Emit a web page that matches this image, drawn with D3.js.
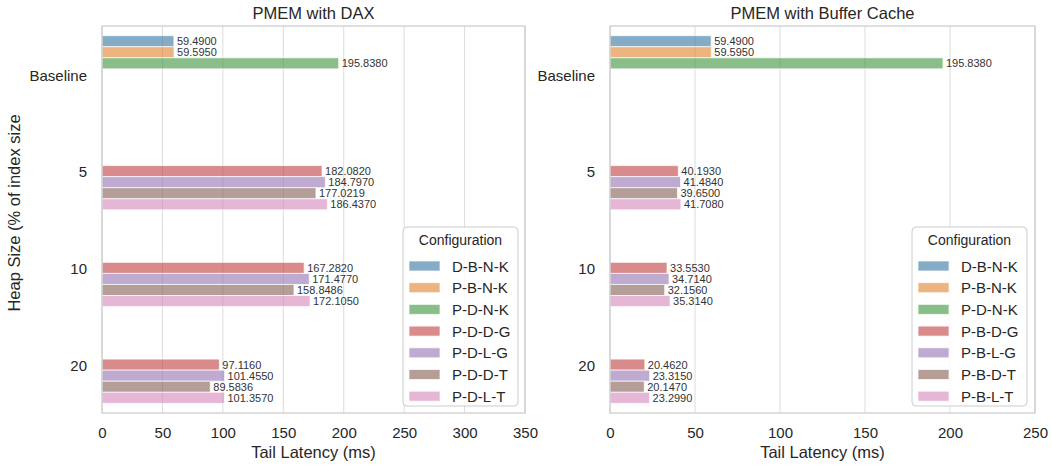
<!DOCTYPE html>
<html>
<head>
<meta charset="utf-8">
<script src="https://cdn.jsdelivr.net/npm/d3@7"></script>
<style>
  html, body { margin: 0; padding: 0; background: #fff; }
  svg { display: block; font-family: "Liberation Sans", Arial, sans-serif; }
</style>
</head>
<body>
<svg id="chart" width="1052" height="465"></svg>
<script>
// Heap-size categories on the y axis
const categories = ["Baseline", "5", "10", "20"];

// Hue order (seven configurations) for each panel
const daxConfigs = ["D-B-N-K", "P-B-N-K", "P-D-N-K", "P-D-D-G", "P-D-L-G", "P-D-D-T", "P-D-L-T"];
const cacheConfigs = ["D-B-N-K", "P-B-N-K", "P-D-N-K", "P-B-D-G", "P-B-L-G", "P-B-D-T", "P-B-L-T"];

// Tail latency (ms) per category, listed in hue order; null = not measured
const daxBaseline = [59.49, 59.595, 195.838, null, null, null, null];
const dax5 = [null, null, null, 182.082, 184.797, 177.0219, 186.437];
const dax10 = [null, null, null, 167.282, 171.477, 158.8486, 172.105];
const dax20 = [null, null, null, 97.116, 101.455, 89.5836, 101.357];

const cacheBaseline = [59.49, 59.595, 195.838, null, null, null, null];
const cache5 = [null, null, null, 40.193, 41.484, 39.65, 41.708];
const cache10 = [null, null, null, 33.553, 34.714, 32.156, 35.314];
const cache20 = [null, null, null, 20.462, 23.315, 20.147, 23.299];

// X tick values per panel
const daxTicks = [0, 50, 100, 150, 200, 250, 300, 350];
const cacheTicks = [0, 50, 100, 150, 200, 250];

// tab10 base colours, desaturated to 75% as the bar style does
const baseColors = ["#1f77b4", "#ff7f0e", "#2ca02c", "#d62728", "#9467bd", "#8c564b", "#e377c2"];
const palette = baseColors.map(c => {
  const h = d3.hsl(c);
  h.s *= 0.75;
  return h.formatHex();
});
const barAlpha = 0.6;
const textColor = "#262626";

const svg = d3.select("#chart");

function drawPanel(opts) {
  const { left, right, top, bottom, title, configs, rows, ticks, legendX } = opts;
  const g = svg.append("g");

  const x = d3.scaleLinear().domain([ticks[0], ticks[ticks.length - 1]]).range([left, right]);
  const y = d3.scaleBand().domain(categories).range([top, bottom]).padding(0);
  const hue = d3.scaleBand().domain(configs)
    .range([y.bandwidth() * 0.1, y.bandwidth() * 0.9]).padding(0);

  // vertical grid
  g.append("g").selectAll("line").data(ticks).join("line")
    .attr("x1", d => x(d)).attr("x2", d => x(d))
    .attr("y1", top).attr("y2", bottom)
    .attr("stroke", "#dcdcdc").attr("stroke-width", 1);

  // bars
  const records = [];
  categories.forEach((c, ci) => {
    rows[ci].forEach((v, hi) => {
      if (v != null) records.push({ cat: c, cfg: configs[hi], idx: hi, value: v });
    });
  });

  g.append("g").selectAll("rect").data(records).join("rect")
    .attr("x", x(0))
    .attr("y", d => y(d.cat) + hue(d.cfg))
    .attr("width", d => x(d.value) - x(0))
    .attr("height", hue.bandwidth())
    .attr("fill", d => palette[d.idx])
    .attr("fill-opacity", barAlpha)
    .attr("stroke", "#ffffff")
    .attr("stroke-opacity", 0.7)
    .attr("stroke-width", 1);

  // value labels
  g.append("g").selectAll("text").data(records).join("text")
    .attr("x", d => x(d.value) + 3)
    .attr("y", d => y(d.cat) + hue(d.cfg) + hue.bandwidth() / 2)
    .attr("dominant-baseline", "central")
    .attr("font-size", 11)
    .attr("fill", "#333")
    .text(d => d3.format(".4f")(d.value));

  // frame
  g.append("rect")
    .attr("x", left).attr("y", top)
    .attr("width", right - left).attr("height", bottom - top)
    .attr("fill", "none").attr("stroke", "#cccccc").attr("stroke-width", 1.25);

  // x axis
  const xAxis = g.append("g").attr("transform", `translate(0,${bottom})`)
    .call(d3.axisBottom(x).tickValues(ticks).tickSize(0).tickPadding(14).tickFormat(d3.format("d")));
  xAxis.select(".domain").remove();
  xAxis.selectAll("text").attr("font-size", 15).attr("fill", textColor)
    .attr("font-family", "Liberation Sans, Arial, sans-serif");

  // y axis
  const yAxis = g.append("g").attr("transform", `translate(${left},1.5)`)
    .call(d3.axisLeft(y).tickSize(0).tickPadding(15));
  yAxis.select(".domain").remove();
  yAxis.selectAll("text").attr("font-size", 15).attr("fill", textColor)
    .attr("font-family", "Liberation Sans, Arial, sans-serif");

  // title
  g.append("text")
    .attr("x", (left + right) / 2).attr("y", 19)
    .attr("text-anchor", "middle").attr("font-size", 16.5).attr("fill", textColor)
    .text(title);

  // x label
  g.append("text")
    .attr("x", (left + right) / 2).attr("y", 458)
    .attr("text-anchor", "middle").attr("font-size", 16.5).attr("fill", textColor)
    .text("Tail Latency (ms)");

  // legend
  const lg = g.append("g").attr("transform", `translate(${legendX},227)`);
  lg.append("rect")
    .attr("width", 115).attr("height", 179).attr("rx", 4)
    .attr("fill", "#ffffff").attr("fill-opacity", 0.8)
    .attr("stroke", "#cccccc").attr("stroke-width", 1);
  lg.append("text")
    .attr("x", 57.5).attr("y", 18)
    .attr("text-anchor", "middle").attr("font-size", 14).attr("fill", textColor)
    .text("Configuration");
  const items = lg.selectAll("g.item").data(configs).join("g")
    .attr("class", "item")
    .attr("transform", (d, i) => `translate(6,${34 + i * 21.7})`);
  items.append("rect")
    .attr("width", 31).attr("height", 10)
    .attr("fill", (d, i) => palette[i]).attr("fill-opacity", barAlpha)
    .attr("stroke", "#fff").attr("stroke-opacity", 0.7);
  items.append("text")
    .attr("x", 43).attr("y", 5)
    .attr("dominant-baseline", "central")
    .attr("font-size", 15).attr("fill", textColor)
    .text(d => d);
}

drawPanel({
  left: 102, right: 525, top: 26, bottom: 413,
  title: "PMEM with DAX", configs: daxConfigs,
  rows: [daxBaseline, dax5, dax10, dax20], ticks: daxTicks, legendX: 403
});

drawPanel({
  left: 610, right: 1035, top: 26, bottom: 413,
  title: "PMEM with Buffer Cache", configs: cacheConfigs,
  rows: [cacheBaseline, cache5, cache10, cache20], ticks: cacheTicks, legendX: 912
});

// shared y label
svg.append("text")
  .attr("transform", "translate(20,213) rotate(-90)")
  .attr("text-anchor", "middle").attr("font-size", 16.5).attr("fill", textColor)
  .text("Heap Size (% of index size");
</script>
</body>
</html>
